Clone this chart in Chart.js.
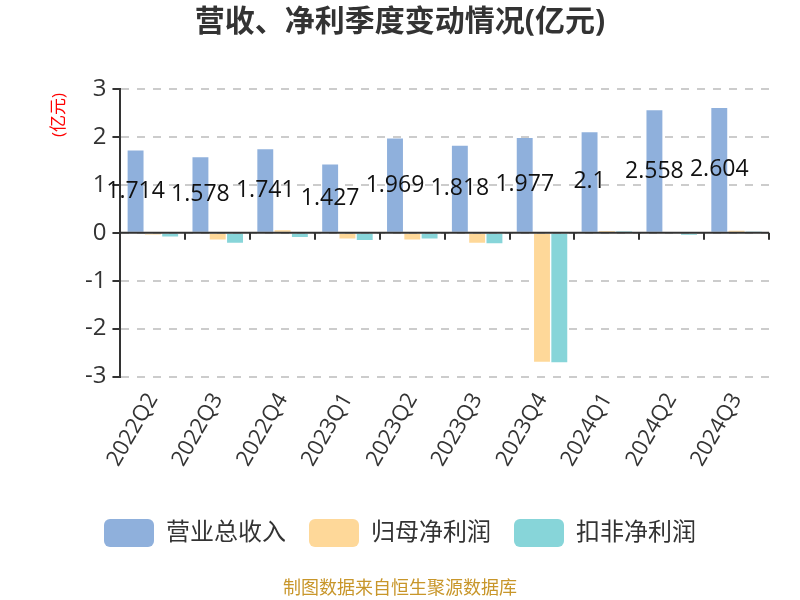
<!DOCTYPE html>
<html>
<head>
<meta charset="utf-8">
<script src="https://cdn.jsdelivr.net/npm/chart.js@4/dist/chart.umd.min.js"></script>
<style>
  html, body { margin: 0; padding: 0; background: #fff; }
  #wrap { width: 800px; height: 600px; position: relative; }
</style>
</head>
<body>
<div id="wrap"><canvas id="chart"></canvas></div>
<script>
const quarters = ['2022Q2', '2022Q3', '2022Q4', '2023Q1', '2023Q2', '2023Q3', '2023Q4', '2024Q1', '2024Q2', '2024Q3'];
const revenue = [1.714, 1.578, 1.741, 1.427, 1.969, 1.818, 1.977, 2.1, 2.558, 2.604];
const netProfit = [-0.035, -0.14, 0.05, -0.12, -0.14, -0.21, -2.69, 0.035, 0, 0.04];
const deductedProfit = [-0.08, -0.21, -0.09, -0.15, -0.12, -0.22, -2.7, 0.03, -0.04, 0.01];
const yTicks = [-3, -2, -1, 0, 1, 2, 3];

const FONT = "'Open Sans', 'Noto Sans CJK SC', sans-serif";

// 营业总收入数值标签，画在柱子中间
const barLabels = {
  id: 'barLabels',
  afterDatasetsDraw(chart) {
    const { ctx } = chart;
    const meta = chart.getDatasetMeta(0);
    ctx.save();
    ctx.font = '23px ' + FONT;
    ctx.fillStyle = '#111';
    ctx.textAlign = 'center';
    ctx.textBaseline = 'middle';
    meta.data.forEach((bar, i) => {
      const y = (bar.y + bar.base) / 2;
      ctx.fillText(String(revenue[i]), bar.x, y);
    });
    ctx.restore();
  }
};

// 0 轴线和刻度、单位、数据来源
const extras = {
  id: 'extras',
  afterDraw(chart) {
    const { ctx, chartArea, scales } = chart;
    const y0 = scales.y.getPixelForValue(0);
    ctx.save();
    ctx.strokeStyle = '#333';
    ctx.lineWidth = 2;
    ctx.beginPath();
    ctx.moveTo(chartArea.left, y0);
    ctx.lineTo(chartArea.right, y0);
    const step = (chartArea.right - chartArea.left) / quarters.length;
    for (let i = 0; i <= quarters.length; i++) {
      const x = Math.round(chartArea.left + step * i);
      ctx.moveTo(x, y0);
      ctx.lineTo(x, y0 + 7);
    }
    ctx.stroke();

    ctx.fillStyle = '#ff0000';
    ctx.font = '17px ' + FONT;
    ctx.textAlign = 'center';
    ctx.textBaseline = 'middle';
    ctx.translate(59, 115);
    ctx.rotate(-Math.PI / 2);
    ctx.fillText('(亿元)', 0, 0);
    ctx.restore();

    ctx.save();
    ctx.fillStyle = '#c8962a';
    ctx.font = '18px ' + FONT;
    ctx.textAlign = 'center';
    ctx.textBaseline = 'middle';
    ctx.fillText('制图数据来自恒生聚源数据库', 400, 589);
    ctx.restore();
  }
};

new Chart(document.getElementById('chart'), {
  type: 'bar',
  data: {
    labels: quarters,
    datasets: [
      { label: '营业总收入', data: revenue, backgroundColor: '#8fb0dc' },
      { label: '归母净利润', data: netProfit, backgroundColor: '#fed899' },
      { label: '扣非净利润', data: deductedProfit, backgroundColor: '#87d5d9' }
    ]
  },
  options: {
    responsive: true,
    maintainAspectRatio: false,
    animation: false,
    datasets: {
      bar: { categoryPercentage: 0.8, barPercentage: 0.92 }
    },
    layout: { padding: { left: 31, right: 31, top: 4, bottom: 43 } },
    plugins: {
      title: {
        display: true,
        text: '营收、净利季度变动情况(亿元)',
        color: '#333',
        font: { family: FONT, size: 30, weight: 'bold' },
        padding: { top: 0, bottom: 49 }
      },
      legend: {
        position: 'bottom',
        labels: {
          color: '#333',
          font: { family: FONT, size: 24 },
          boxWidth: 50,
          boxHeight: 28,
          useBorderRadius: true,
          borderRadius: 6,
          padding: 23
        }
      },
      tooltip: { enabled: false }
    },
    scales: {
      x: {
        grid: { display: false },
        border: { display: false },
        afterFit(axis) { axis.height += 21; },
        ticks: {
          color: '#333',
          font: { family: FONT, size: 22 },
          minRotation: 60,
          maxRotation: 60,
          padding: 4
        }
      },
      y: {
        min: -3,
        max: 3,
        afterBuildTicks(axis) {
          axis.ticks = yTicks.map(v => ({ value: v }));
        },
        afterFit(axis) { axis.width += 48; },
        grid: {
          color: '#cccccc',
          lineWidth: 2,
          tickColor: '#333',
          tickLength: 8,
          tickBorderDash: []
        },
        border: { display: true, color: '#333', width: 2, dash: [8, 8] },
        ticks: {
          color: '#333',
          font: { family: FONT, size: 24 },
          padding: 6
        }
      }
    }
  },
  plugins: [barLabels, extras]
});
</script>
</body>
</html>
